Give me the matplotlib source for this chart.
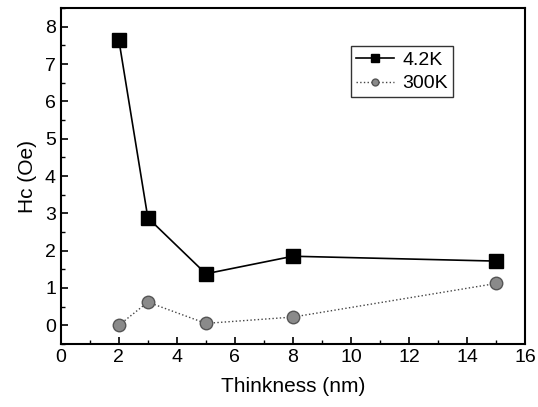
import matplotlib
matplotlib.use('Agg')
import matplotlib.pyplot as plt

plt.rcParams['font.family'] = ['Liberation Sans', 'DejaVu Sans']

thick = [2, 3, 5, 8, 15]
hc_4k = [7.65, 2.88, 1.38, 1.85, 1.72]
hc_300k = [0.0, 0.62, 0.05, 0.22, 1.12]

fig = plt.figure(figsize=(5.38, 4.07), dpi=100)
ax = fig.add_axes([0.113, 0.155, 0.863, 0.825])

ax.plot(thick, hc_4k, '-', color='black', lw=1.2, marker='s', ms=10,
        mfc='black', mec='black', label='4.2K')
ax.plot(thick, hc_300k, ':', color='#444444', lw=1.0, marker='o', ms=9,
        mfc='#8a8a8a', mec='#555555', label='300K')

ax.set_xlim(0, 16)
ax.set_ylim(-0.5, 8.5)
ax.set_xticks(range(0, 17, 2))
ax.set_xticks(range(0, 17, 1), minor=True)
ax.set_yticks(range(0, 9))
ax.set_yticks([i + 0.5 for i in range(-1, 9)], minor=True)
ax.tick_params(which='both', direction='in', top=False, right=False,
               labelsize=14)
ax.tick_params(which='major', length=5, width=1.2)
ax.tick_params(which='minor', length=3, width=1)
for s in ax.spines.values():
    s.set_linewidth(1.5)

ax.set_xlabel('Thinkness (nm)', fontsize=15, labelpad=8)
ax.set_ylabel('Hc (Oe)', fontsize=15, labelpad=6)

leg = ax.legend(loc='upper right', bbox_to_anchor=(0.865, 0.915), fontsize=14,
                frameon=True, fancybox=False, edgecolor='black',
                handlelength=2.0, markerscale=0.55, borderpad=0.25,
                labelspacing=0.3, handletextpad=0.4)
leg.get_frame().set_linewidth(1.0)

fig.savefig('out.png', dpi=100)
